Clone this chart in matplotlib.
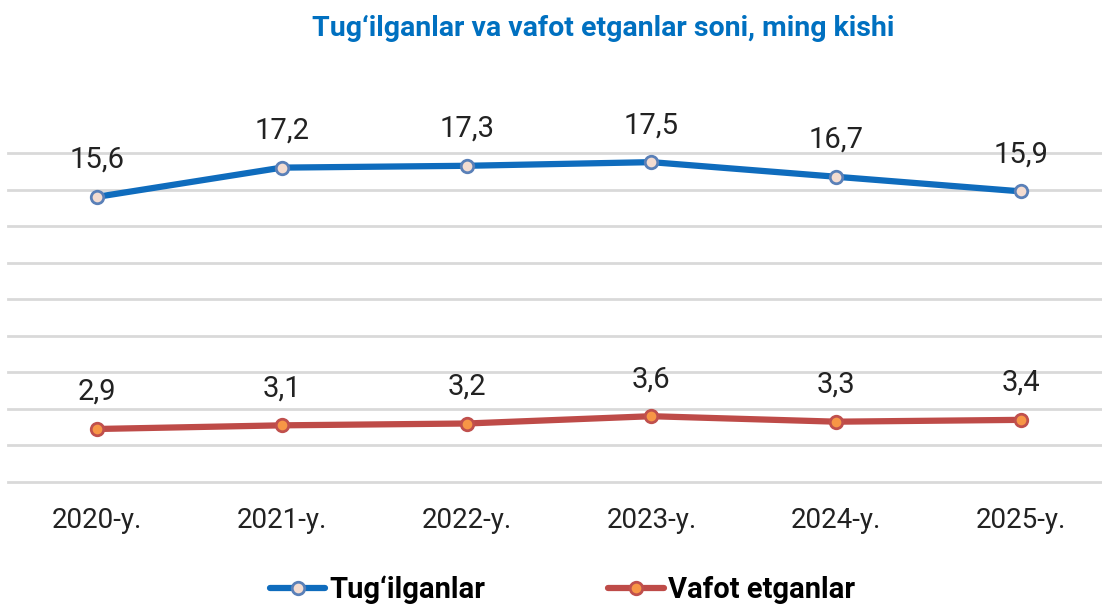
import matplotlib
matplotlib.use("Agg")
import matplotlib.pyplot as plt
import numpy as np

# chart data
years = ["2020-y.", "2021-y.", "2022-y.", "2023-y.", "2024-y.", "2025-y."]
births = [15.6, 17.2, 17.3, 17.5, 16.7, 15.9]
deaths = [2.9, 3.1, 3.2, 3.6, 3.3, 3.4]
labels_births = ["15,6", "17,2", "17,3", "17,5", "16,7", "15,9"]
labels_deaths = ["2,9", "3,1", "3,2", "3,6", "3,3", "3,4"]

plt.rcParams['font.family'] = ['Roboto', 'DejaVu Sans']

fig = plt.figure(figsize=(11.02, 6.05), dpi=100)
W, H = 1102, 605
# axes box in pixels: left 8, right 1102, value 0 at y=482, top value 20
y0_px = 482
px_per_unit = 329 / 18
top_px = y0_px - 20 * px_per_unit
ax = fig.add_axes([8 / W, 1 - y0_px / H, (W - 8) / W, (y0_px - top_px) / H])

x = np.arange(len(years))
ax.set_xlim(-(97 - 8) / 184.8, (W - 97) / 184.8)
ax.set_ylim(0, 20)

ax.set_yticks(np.arange(0, 19, 2))
ax.yaxis.grid(True, color="#d9d9d9", linewidth=2)
for gl in ax.get_ygridlines():
    gl.set_clip_on(False)
ax.set_axisbelow(True)
ax.tick_params(axis="y", left=False, labelleft=False)
for s in ax.spines.values():
    s.set_visible(False)

ax.set_xticks(x)
ax.set_xticklabels(years, fontsize=20, color="#222222")
ax.tick_params(axis="x", length=0, pad=18)

blue = "#0f6cbd"
red = "#be4b48"
ax.plot(x, births, color=blue, linewidth=4.5, marker="o", markersize=9,
        markerfacecolor="#f4dcd0", markeredgecolor="#5a80b8", markeredgewidth=2,
        label="Tug\u2018ilganlar", solid_capstyle="round")
ax.plot(x, deaths, color=red, linewidth=4.5, marker="o", markersize=9,
        markerfacecolor="#f79646", markeredgecolor="#c0504d", markeredgewidth=2,
        label="Vafot etganlar", solid_capstyle="round")

for xi, v, t in zip(x, births, labels_births):
    ax.annotate(t, (xi, v), xytext=(0, 37), textcoords="offset pixels",
                ha="center", va="center", fontsize=21, color="#222222")
for xi, v, t in zip(x, deaths, labels_deaths):
    ax.annotate(t, (xi, v), xytext=(0, 37), textcoords="offset pixels",
                ha="center", va="center", fontsize=21, color="#222222")

fig.text(603 / W, 1 - 28 / H, "Tug\u2018ilganlar va vafot etganlar soni, ming kishi",
         ha="center", va="center", fontsize=20.5, color="#0070c0", fontweight="bold")

leg = fig.legend(loc="center", bbox_to_anchor=(0.5104, 1 - 590 / H), ncol=2,
                 frameon=False, fontsize=21, columnspacing=4.2, handlelength=1.9,
                 handletextpad=0.15)
for t in leg.get_texts():
    t.set_fontweight("bold")

fig.savefig("out.png", dpi=100)
